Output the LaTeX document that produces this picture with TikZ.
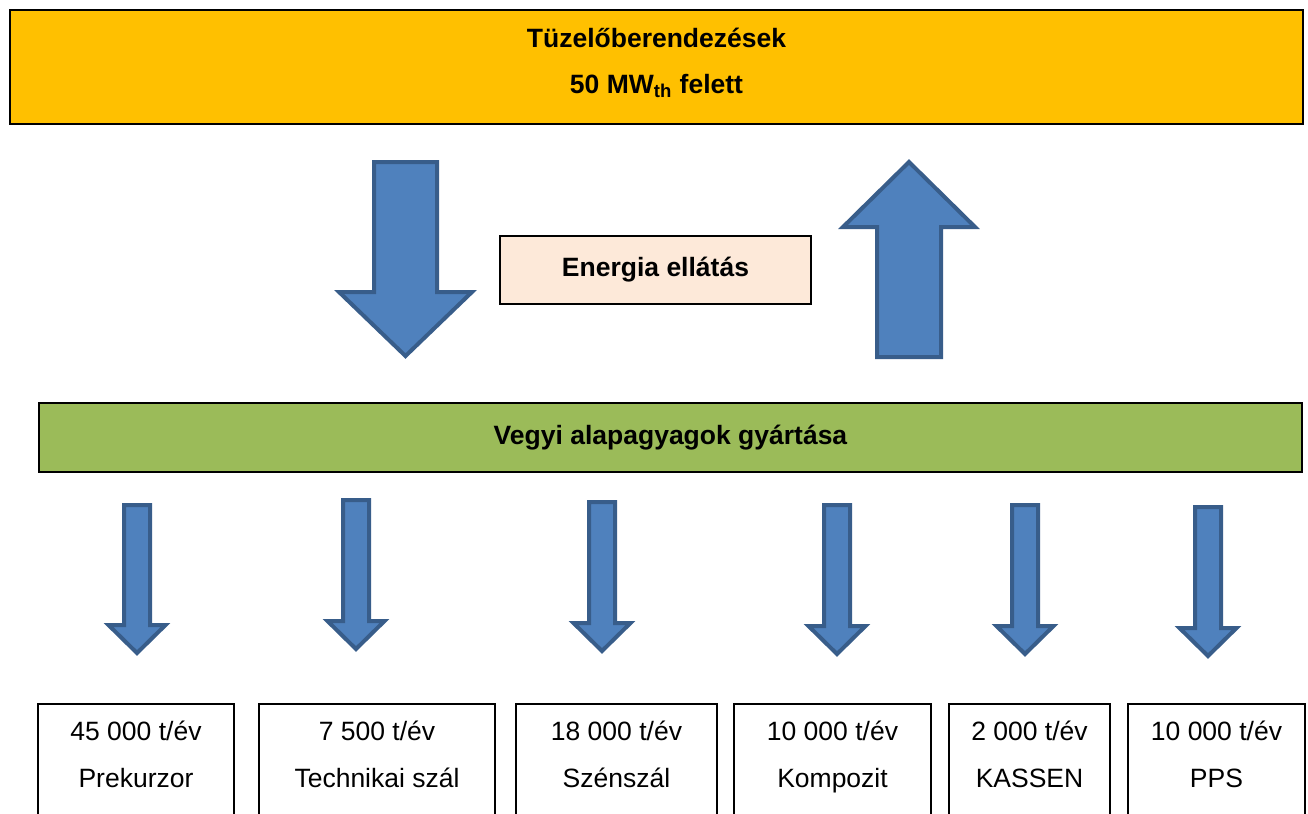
\documentclass[tikz,border=0pt]{standalone}
\usepackage{fontspec}
\setmainfont{Liberation Sans}
\usepackage{tikz}
\usetikzlibrary{calc,positioning}
\usepackage{xcolor}

\definecolor{sarga}{HTML}{FFC000}
\definecolor{barack}{HTML}{FDE9D9}
\definecolor{zold}{HTML}{9BBB59}
\definecolor{kekfill}{HTML}{4F81BD}
\definecolor{kekvonal}{HTML}{385D8A}

\tikzset{
  doboz/.style={draw=black,line width=1pt,inner sep=0pt},
  felirat/.style={font=\fontsize{13.25}{23.5}\selectfont,align=center,inner sep=0pt},
  vastag/.style={felirat,font=\bfseries\fontsize{13.25}{23}\selectfont},
  nyil/.style={fill=kekfill,draw=kekvonal,line width=2pt,line join=miter}
}

\begin{document}
\begin{tikzpicture}[x=0.5pt,y=-0.5pt]
  \clip (0,0) rectangle (1308,814);
  \fill[white] (0,0) rectangle (1308,814);

  % felso doboz
  \node[doboz,fill=sarga,minimum width=646.5pt,minimum height=57pt] (tuzelo) at (656.5,67) {};
  \node[vastag] (tuzelo-szoveg) at (656.5,61) {T\"uzel\H{o}berendez\'esek\strut\\50 MW\textsubscript{th} felett\strut};

  % nagy nyilak
  \draw[nyil] (374,162) -- ++(63,0) -- ++(0,130) -- ++(35,0) -- ++(-66.5,64) -- ++(-66.5,-64) -- ++(35,0) -- cycle;
  \draw[nyil] (877,357) -- ++(64,0) -- ++(0,-130) -- ++(34,0) -- ++(-66,-65) -- ++(-66,65) -- ++(34,0) -- cycle;

  \node[doboz,fill=barack,minimum width=155.5pt,minimum height=34pt,font=\bfseries\fontsize{13.25}{16}\selectfont] (energia) at (655.5,270) {Energia ell\'at\'as};

  % vegyi alapanyagok
  \node[doboz,fill=zold,minimum width=631.5pt,minimum height=34.5pt,font=\bfseries\fontsize{13.25}{16}\selectfont] (vegyi) at (670.5,437.5) {Vegyi alapagyagok gy\'art\'asa};

  % kis nyilak
  \draw[nyil] (124,505) -- ++(26,0) -- ++(0,120) -- ++(15.5,0) -- ++(-28.5,28) -- ++(-28.5,-28) -- ++(15.5,0) -- cycle;
  \draw[nyil] (343,500) -- ++(26,0) -- ++(0,121) -- ++(15.5,0) -- ++(-28.5,28) -- ++(-28.5,-28) -- ++(15.5,0) -- cycle;
  \draw[nyil] (589,502) -- ++(26,0) -- ++(0,121) -- ++(15.5,0) -- ++(-28.5,28) -- ++(-28.5,-28) -- ++(15.5,0) -- cycle;
  \draw[nyil] (824,505) -- ++(26,0) -- ++(0,121) -- ++(15.5,0) -- ++(-28.5,28) -- ++(-28.5,-28) -- ++(15.5,0) -- cycle;
  \draw[nyil] (1012,505) -- ++(26,0) -- ++(0,121) -- ++(15.5,0) -- ++(-28.5,28) -- ++(-28.5,-28) -- ++(15.5,0) -- cycle;
  \draw[nyil] (1195,507) -- ++(26,0) -- ++(0,121) -- ++(15.5,0) -- ++(-28.5,28) -- ++(-28.5,-28) -- ++(15.5,0) -- cycle;

  % also dobozok
  \node[doboz,anchor=north,minimum width=98pt,minimum height=70pt] (prekurzor) at (136,703) {};
  \node[doboz,anchor=north,minimum width=118pt,minimum height=70pt] (techszal) at (377,703) {};
  \node[doboz,anchor=north,minimum width=100.5pt,minimum height=70pt] (szenszal) at (616.5,703) {};
  \node[doboz,anchor=north,minimum width=98.5pt,minimum height=70pt] (kompozit) at (832.5,703) {};
  \node[doboz,anchor=north,minimum width=80.5pt,minimum height=70pt] (kassen) at (1029.5,703) {};
  \node[doboz,anchor=north,minimum width=88.5pt,minimum height=70pt] (pps) at (1216.5,703) {};

  \node[felirat] (prekurzor-szoveg) at (136,754.5) {45 000 t/\'ev\strut\\Prekurzor\strut};
  \node[felirat] (techszal-szoveg) at (377,754.5) {7 500 t/\'ev\strut\\Technikai sz\'al\strut};
  \node[felirat] (szenszal-szoveg) at (616.5,754.5) {18 000 t/\'ev\strut\\Sz\'ensz\'al\strut};
  \node[felirat] (kompozit-szoveg) at (832.5,754.5) {10 000 t/\'ev\strut\\Kompozit\strut};
  \node[felirat] (kassen-szoveg) at (1029.5,754.5) {2 000 t/\'ev\strut\\KASSEN\strut};
  \node[felirat] (pps-szoveg) at (1216.5,754.5) {10 000 t/\'ev\strut\\PPS\strut};
\end{tikzpicture}
\end{document}
